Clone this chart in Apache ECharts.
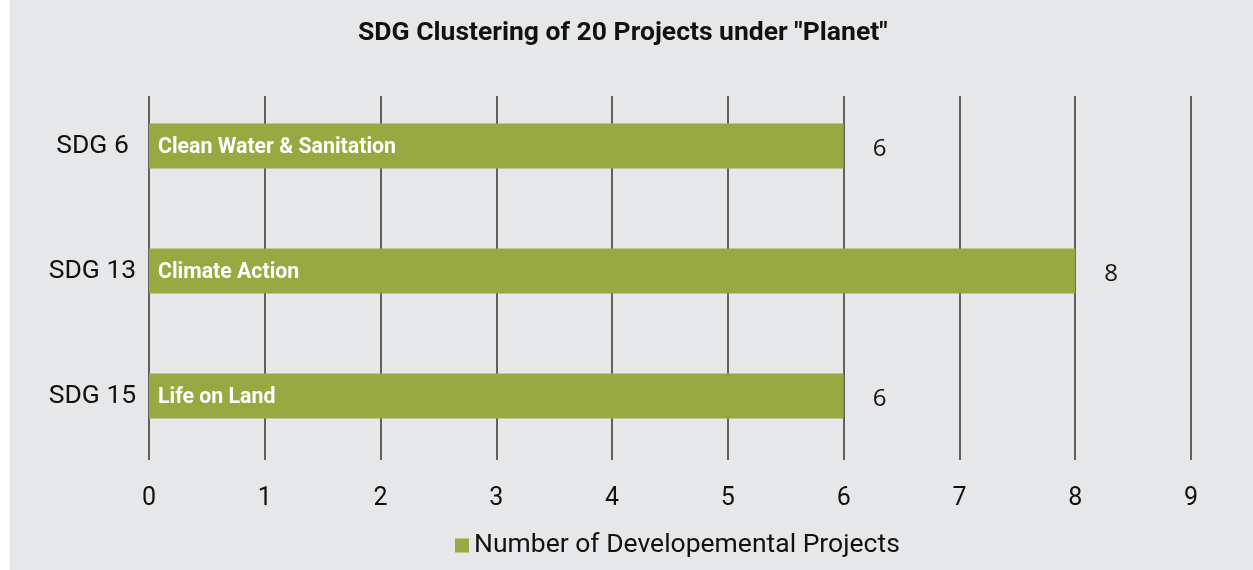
<!DOCTYPE html>
<html>
<head>
<meta charset="utf-8">
<script src="https://cdn.jsdelivr.net/npm/echarts@6/dist/echarts.min.js"></script>
<style>
  html, body { margin: 0; padding: 0; background: #ffffff; }
  #chart { position: absolute; left: 10px; top: 0; width: 1243px; height: 570px; background: #e6e7e9; }
</style>
</head>
<body>
<div id="chart"></div>
<script>
// Chart data
const titleText = 'SDG Clustering of 20 Projects under "Planet"';
const categories = ['SDG 6', 'SDG 13', 'SDG 15'];
const goalNames = ['Clean Water & Sanitation', 'Climate Action', 'Life on Land'];
const projectCounts = [6, 8, 6];
const seriesName = 'Number of Developemental Projects';
const xTicks = [0, 1, 2, 3, 4, 5, 6, 7, 8, 9];

const barColor = '#98a941';
const lineColor = '#333333';

const chart = echarts.init(document.getElementById('chart'), null, { renderer: 'canvas' });

const xMin = xTicks[0];
const xMax = xTicks[xTicks.length - 1];

chart.setOption({
  backgroundColor: 'transparent',
  animation: false,
  title: {
    text: titleText,
    left: 343,
    top: 15,
    textStyle: { fontFamily: 'Roboto', fontWeight: 'bold', fontSize: 26.5, color: '#111111' }
  },
  legend: {
    data: [seriesName],
    left: 440,
    top: 527,
    itemWidth: 14,
    itemHeight: 14,
    itemGap: 6,
    icon: 'rect',
    textStyle: { fontFamily: 'Roboto', fontSize: 26.5, color: '#111111' }
  },
  grid: [
    // bars
    { left: 139, right: 62, top: 83.5, height: 375, containLabel: false },
    // vertical grid lines
    { left: 139, right: 62, top: 96, height: 364, containLabel: false }
  ],
  xAxis: [
    {
      gridIndex: 0, type: 'value', min: xMin, max: xMax, interval: 1,
      axisLine: { show: false }, axisTick: { show: false },
      axisLabel: { show: false }, splitLine: { show: false }
    },
    {
      gridIndex: 1, type: 'value', min: xMin, max: xMax, interval: 1,
      axisLine: { show: false }, axisTick: { show: false },
      axisLabel: {
        show: true, margin: 26, fontFamily: 'Roboto', fontSize: 25, color: '#111111'
      },
      splitLine: { show: true, lineStyle: { color: lineColor, width: 1.5 } }
    }
  ],
  yAxis: [
    {
      gridIndex: 0, type: 'category', data: categories, inverse: true,
      axisLine: { show: false }, axisTick: { show: false },
      axisLabel: {
        margin: 56.5, align: 'center', padding: [6, 0, 0, 0],
        fontFamily: 'Roboto', fontSize: 26.5, color: '#111111'
      }
    },
    {
      gridIndex: 1, type: 'value', min: 0, max: 1,
      axisLine: { show: false }, axisTick: { show: false },
      axisLabel: { show: false }, splitLine: { show: false }
    }
  ],
  series: [
    {
      name: seriesName,
      type: 'bar',
      xAxisIndex: 0, yAxisIndex: 0,
      data: projectCounts,
      barWidth: 45,
      itemStyle: { color: barColor },
      label: {
        show: true,
        position: 'insideLeft',
        distance: 9,
        offset: [0, 2],
        formatter: p => goalNames[p.dataIndex],
        fontFamily: 'Roboto', fontWeight: 'bold', fontSize: 21.3, color: '#ffffff'
      },
      z: 3
    },
    {
      name: 'value',
      type: 'bar',
      xAxisIndex: 0, yAxisIndex: 0,
      data: projectCounts,
      barWidth: 45,
      barGap: '-100%',
      silent: true,
      itemStyle: { color: 'rgba(0,0,0,0)' },
      label: {
        show: true,
        position: 'right',
        distance: 29,
        offset: [0, 3],
        fontFamily: 'Open Sans', fontSize: 24, color: '#111111'
      },
      z: 4
    }
  ]
});
</script>
</body>
</html>
